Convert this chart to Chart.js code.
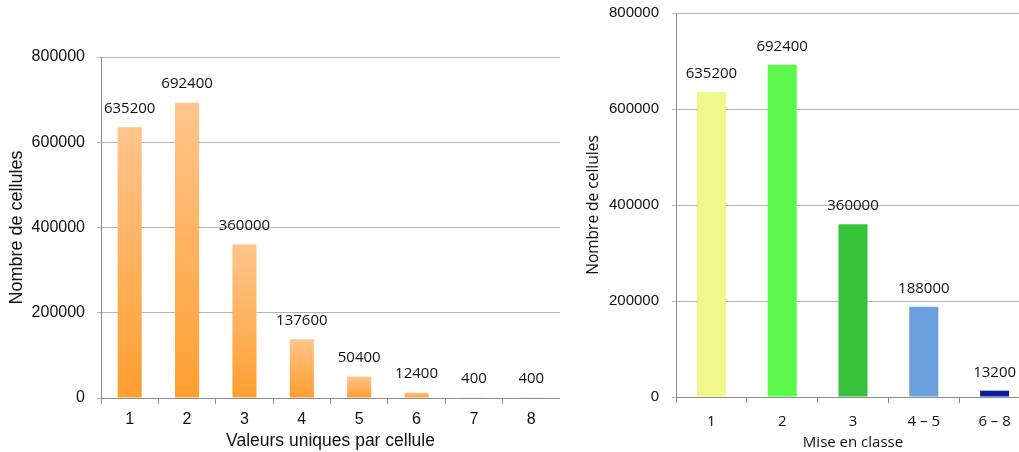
<!DOCTYPE html>
<html>
<head>
<meta charset="utf-8">
<script src="https://cdn.jsdelivr.net/npm/chart.js@4.4.1/dist/chart.umd.min.js"></script>
<style>
  html, body { margin: 0; padding: 0; background: #fff; overflow: hidden; }
  body { width: 1019px; height: 452px; position: relative; }
  #leftBox { position: absolute; left: 0; top: 0; width: 560px; height: 452px; }
  #rightBox { position: absolute; left: 560px; top: 0; width: 470px; height: 452px; }
</style>
</head>
<body>
<div id="leftBox"><canvas id="leftChart"></canvas></div>
<div id="rightBox"><canvas id="rightChart"></canvas></div>
<script>
// left chart: number of unique values per cell
const uniqueCategories = ['1', '2', '3', '4', '5', '6', '7', '8'];
const uniqueCounts = [635200, 692400, 360000, 137600, 50400, 12400, 400, 400];

// right chart: classification
const classCategories = ['1', '2', '3', '4 \u2013 5', '6 \u2013 8'];
const classCounts = [635200, 692400, 360000, 188000, 13200];
const classColors = ['#F2F78C', '#5CF84C', '#38C13B', '#6A9FDD', '#0B1C9C'];

const yTicks = [0, 200000, 400000, 600000, 800000];

const gridGrey = '#B4B4B4';
const axisGrey = '#8C8C8C';

// draws the value above each bar
const barValues = {
  id: 'barValues',
  afterDatasetsDraw(chart, args, opts) {
    const ctx = chart.ctx;
    const meta = chart.getDatasetMeta(0);
    ctx.save();
    ctx.font = opts.font;
    ctx.fillStyle = '#111';
    ctx.textAlign = 'center';
    ctx.textBaseline = 'middle';
    meta.data.forEach((bar, i) => {
      ctx.fillText(String(chart.data.datasets[0].data[i]), bar.x, bar.y - opts.offset);
    });
    ctx.restore();
  }
};

function orangeFill(context) {
  const chart = context.chart;
  const y = chart.scales.y;
  if (!y || !chart.chartArea) return '#FFB060';
  const top = y.getPixelForValue(context.raw);
  const bottom = y.getPixelForValue(0);
  const g = chart.ctx.createLinearGradient(0, top, 0, bottom);
  g.addColorStop(0, '#FFC58C');
  g.addColorStop(1, '#FF9E30');
  return g;
}

function yScale(fontFamily, fontSize, width, titleFamily, titleSize, tickPad) {
  return {
    min: 0,
    max: 800000,
    afterBuildTicks: s => { s.ticks = yTicks.map(v => ({ value: v })); },
    afterFit: s => { s.width = width; s.paddingTop = 0; s.paddingBottom = 0; },
    ticks: { color: '#111', font: { family: fontFamily, size: fontSize }, padding: tickPad, callback: v => String(v) },
    grid: { color: gridGrey, tickLength: 4, drawTicks: true },
    border: { color: axisGrey },
    title: {
      display: true,
      text: 'Nombre de cellules',
      color: '#111',
      font: { family: titleFamily, size: titleSize },
      padding: { top: 0, bottom: 0 }
    }
  };
}

function xScale(fontFamily, fontSize, height, tickPad, titleText, titleSize, titlePad) {
  return {
    afterFit: s => { s.height = height; },
    ticks: { color: '#111', font: { family: fontFamily, size: fontSize }, padding: tickPad },
    grid: { drawOnChartArea: false, color: axisGrey, tickLength: 6, offset: true },
    border: { color: axisGrey },
    title: {
      display: true,
      text: titleText,
      color: '#111',
      font: { family: fontFamily, size: titleSize },
      padding: { top: titlePad, bottom: 0 }
    }
  };
}

new Chart(document.getElementById('leftChart'), {
  type: 'bar',
  data: {
    labels: uniqueCategories,
    datasets: [{
      data: uniqueCounts,
      backgroundColor: orangeFill,
      categoryPercentage: 1,
      barPercentage: 0.42
    }]
  },
  options: {
    responsive: true,
    maintainAspectRatio: false,
    animation: false,
    layout: { padding: { top: 57, right: 0, left: 6, bottom: 0 } },
    plugins: {
      legend: { display: false },
      tooltip: { enabled: false },
      barValues: { font: '15px "Open Sans"', offset: 19 }
    },
    scales: {
      x: xScale('"Liberation Sans"', 16, 54, 6, 'Valeurs uniques par cellule', 17.5, -6),
      y: yScale('"Liberation Sans"', 16, 95, '"Liberation Sans"', 18, 12)
    }
  },
  plugins: [barValues]
});

new Chart(document.getElementById('rightChart'), {
  type: 'bar',
  data: {
    labels: classCategories,
    datasets: [{
      data: classCounts,
      backgroundColor: classColors,
      categoryPercentage: 1,
      barPercentage: 0.41
    }]
  },
  options: {
    responsive: true,
    maintainAspectRatio: false,
    animation: false,
    layout: { padding: { top: 13, right: 0, left: 24, bottom: 0 } },
    plugins: {
      legend: { display: false },
      tooltip: { enabled: false },
      barValues: { font: '15px "Open Sans"', offset: 18 }
    },
    scales: {
      x: xScale('"Open Sans"', 15, 55, 10, 'Mise en classe', 15, -6),
      y: yScale('"Liberation Sans"', 15, 92, '"Open Sans"', 15.5, 13)
    }
  },
  plugins: [barValues]
});
</script>
</body>
</html>
